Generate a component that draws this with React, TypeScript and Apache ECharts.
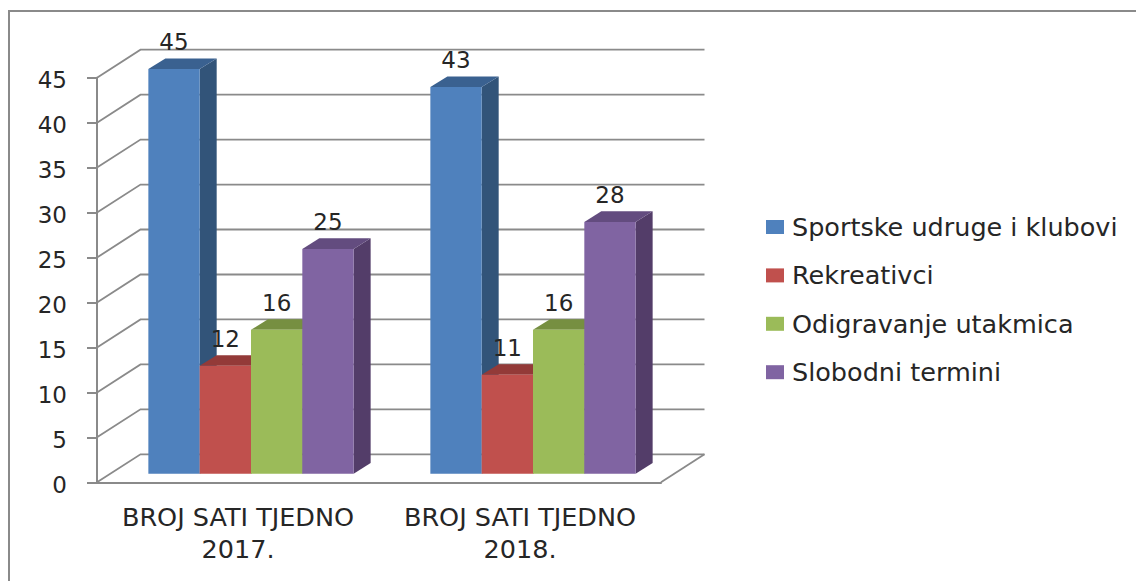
import React, { useEffect, useRef } from "react";
import * as echarts from "echarts";

const categories = ["BROJ SATI TJEDNO\n2017.", "BROJ SATI TJEDNO\n2018."];
const seriesNames = ["Sportske udruge i klubovi", "Rekreativci", "Odigravanje utakmica", "Slobodni termini"];
const sportske = [45, 43];
const rekreativci = [12, 11];
const odigravanje = [16, 16];
const slobodni = [25, 28];
const yTicks = [0, 5, 10, 15, 20, 25, 30, 35, 40, 45];

const seriesValues = [sportske, rekreativci, odigravanje, slobodni];
const frontColors = ["#4F81BD", "#C0504D", "#9BBB59", "#8064A2"];
const topColors = ["#3A6190", "#933A38", "#768F41", "#634C7F"];
const sideColors = ["#325479", "#7F3331", "#667C3A", "#533D69"];

const GRID_COLOR = "#8A8A8A";
const WALL_DX = 43.5;
const WALL_DY = 28;
const BAR_SHIFT_X = 13;
const BAR_SHIFT_Y = 8.6;
const BAR_DX = 17;
const BAR_DY = 10.6;
const FONT_DIGITS = "DejaVu Sans";
const FONT_TEXT = "DejaVu Sans";

function wallItem(_params: any, api: any) {
  const v = api.value(0);
  const [x0, y] = api.coord([0, v]);
  const band = api.size([1, 0])[0];
  const left = x0 - band / 2;
  const right = left + band * 2;
  const shape = {
    points: [
      [left, y],
      [left + WALL_DX, y - WALL_DY],
      [right + WALL_DX, y - WALL_DY],
    ],
  };
  const children: any[] = [
    { type: "polyline", shape, style: { stroke: GRID_COLOR, lineWidth: 1.8, fill: "none" } },
  ];
  if (v === 0) {
    children.push({
      type: "line",
      shape: { x1: right, y1: y, x2: right + WALL_DX, y2: y - WALL_DY },
      style: { stroke: GRID_COLOR, lineWidth: 1.8 },
    });
  }
  return { type: "group", children };
}

function barRenderer(index: number) {
  return (_params: any, api: any) => {
    const cat = api.value(0);
    const val = api.value(1);
    const [cx, yTop0] = api.coord([cat, val]);
    const yBase0 = api.coord([cat, 0])[1];
    const band = api.size([1, 0])[0];
    const w = band * 0.182;
    const x = cx + BAR_SHIFT_X + (index - 2) * w;
    const yTop = yTop0 - BAR_SHIFT_Y;
    const yBase = yBase0 - BAR_SHIFT_Y;
    return {
      type: "group",
      children: [
        {
          type: "polygon",
          shape: { points: [[x + w, yTop], [x + w + BAR_DX, yTop - BAR_DY], [x + w + BAR_DX, yBase - BAR_DY], [x + w, yBase]] },
          style: { fill: sideColors[index] },
        },
        {
          type: "polygon",
          shape: { points: [[x, yTop], [x + BAR_DX, yTop - BAR_DY], [x + w + BAR_DX, yTop - BAR_DY], [x + w, yTop]] },
          style: { fill: topColors[index] },
        },
        { type: "rect", shape: { x, y: yTop, width: w, height: yBase - yTop }, style: { fill: frontColors[index] } },
        {
          type: "text",
          x: x + w / 2,
          y: yTop - 27,
          style: {
            text: String(val),
            fill: "#262626",
            font: `23px "${FONT_DIGITS}"`,
            align: "center",
            verticalAlign: "middle",
          },
        },
      ],
    };
  };
}

export default function App() {
  const ref = useRef<HTMLDivElement>(null);
  useEffect(() => {
    document.body.style.margin = "0";
    const chart = echarts.init(ref.current!, null, { renderer: "svg" });
    chart.setOption({
      animation: false,
      backgroundColor: "#fff",
      graphic: [
        {
          type: "rect",
          z: -10,
          silent: true,
          shape: { x: 9, y: 11, width: 1160, height: 620 },
          style: { fill: "none", stroke: "#8A8A8A", lineWidth: 2 },
        },
      ],
      grid: { left: 97, top: 77.7, width: 564, height: 404.6, containLabel: false },
      legend: {
        orient: "vertical",
        left: 766,
        top: 214,
        padding: 0,
        icon: "rect",
        itemWidth: 18,
        itemHeight: 14,
        itemGap: 22.4,
        selectedMode: false,
        data: seriesNames,
        textStyle: { fontFamily: FONT_TEXT, fontSize: 25.5, lineHeight: 24, color: "#262626", padding: [0, 0, 0, 3] },
      },
      xAxis: {
        type: "category",
        data: categories,
        axisLine: { lineStyle: { color: GRID_COLOR, width: 2 } },
        axisTick: { length: 9, lineStyle: { color: GRID_COLOR, width: 2 } },
        axisLabel: { fontFamily: FONT_TEXT, fontSize: 25.5, lineHeight: 32, color: "#262626", margin: 19, interval: 0 },
        splitLine: { show: false },
      },
      yAxis: {
        type: "value",
        min: 0,
        max: 45,
        interval: 5,
        axisLine: { show: true, lineStyle: { color: GRID_COLOR, width: 2 } },
        axisTick: { show: true, length: 10, lineStyle: { color: GRID_COLOR, width: 2 } },
        axisLabel: {
          margin: 30,
          formatter: "{a|{value}}",
          rich: { a: { fontFamily: FONT_DIGITS, fontSize: 23, color: "#262626", padding: [5, 0, 0, 0] } },
        },
        splitLine: { show: false },
      },
      series: [
        {
          type: "custom",
          name: "walls",
          renderItem: wallItem,
          data: yTicks.map((t) => [t]),
          encode: { y: 0 },
          silent: true,
          z: 1,
        },
        ...seriesNames.map((name, i) => ({
          type: "custom",
          name,
          renderItem: barRenderer(i),
          data: seriesValues[i].map((v, c) => [c, v]),
          encode: { x: 0, y: 1 },
          itemStyle: { color: frontColors[i] },
          z: 2 + i,
        })),
      ],
    });
    return () => chart.dispose();
  }, []);
  return <div ref={ref} style={{ position: "absolute", left: 0, top: 0, width: 1136, height: 581 }} />;
}
